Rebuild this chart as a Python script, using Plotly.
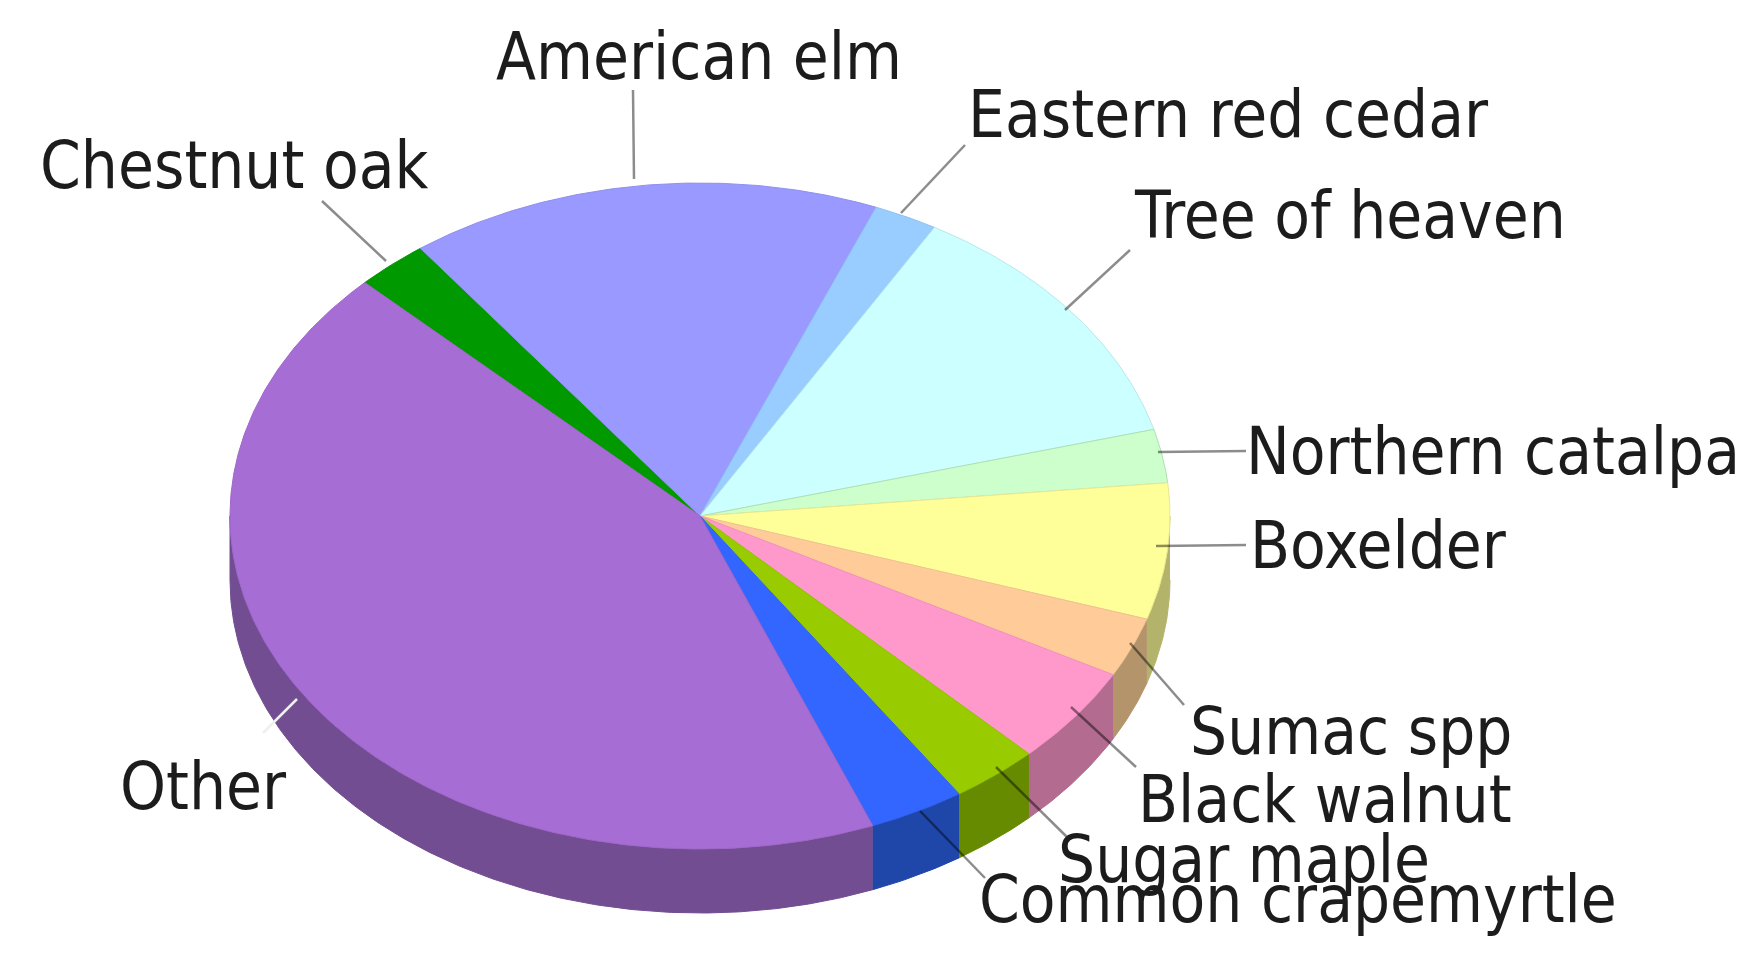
import numpy as np
import plotly.graph_objects as go

# ---- data (clockwise from the chestnut oak slice) ----
species = ["Chestnut oak", "American elm", "Eastern red cedar", "Tree of heaven",
           "Northern catalpa", "Boxelder", "Sumac spp", "Black walnut",
           "Sugar maple", "Common crapemyrtle", "Other"]
shares = [2.5, 16.25, 2.2, 12.5, 2.6, 6.6, 2.9, 4.75, 3.05, 3.3, 43.35]

# ---- styles ----
top_colors = ["#009900", "#9999FF", "#99CCFF", "#CCFFFF", "#CCFFCC", "#FFFF99",
              "#FFCC99", "#FF99CC", "#99CC00", "#3366FF", "#A66DD4"]
side_colors = ["#006B00", "#6B6BB3", "#6B8FB3", "#8FB3B3", "#8FB38F", "#B3B36B",
               "#B3946B", "#B36B8F", "#668A00", "#1F47AA", "#724D91"]
edge_colors = ["#009900", "#9090EE", "#90C0EE", "#B8E8E8", "#B0E0B0", "#E8E890",
               "#F0C090", "#F090C0", "#90C000", "#3060F0", "#A066CC"]
label_x = [38, 494, 966, 1132, 1244, 1248, 1188, 1136, 1056, 977, 118]
label_y = [165, 56, 114, 215, 451, 545, 731, 799, 859, 899, 786]
leader_x = [[322, 386], [633, 634], [965, 901], [1130, 1065], [1246, 1158], [1246, 1156],
            [1184, 1130], [1136, 1071], [1069, 996], [985, 920], [263, 297]]
leader_y = [[201, 261], [90, 179], [145, 213], [250, 310], [451, 452], [545, 546],
            [705, 643], [767, 707], [839, 767], [878, 811], [733, 699]]
leader_colors = ["rgba(0,0,0,0.45)"] * 10 + ["#F0F0F0"]

CX, CY, RX, RY, DEPTH = 700, 516, 470, 333, 64
START = 135.5
FONT = "DejaVu Sans Condensed, Liberation Sans, sans-serif"
FONT_SIZE = 65
PAGE_MARGIN = 8  # the page's body margin: the axes start there

ends = START - np.cumsum(shares) * 3.6
starts = np.concatenate([[START], ends[:-1]])


def arc(a0, a1):
    t = np.radians(np.linspace(a0, a1, max(int(abs(a1 - a0) * 2), 2) + 1))
    return CX + RX * np.cos(t), CY - RY * np.sin(t)


fig = go.Figure()


def poly(x, y, fill, edge):
    fig.add_trace(go.Scatter(x=x, y=y, mode="lines", fill="toself", fillcolor=fill,
                             line=dict(color=edge, width=1), hoverinfo="skip", showlegend=False))


# side walls: the part of each slice's rim on the lower half of the ellipse
for a0, a1, c in zip(starts, ends, side_colors):
    for shift in (0, -360):
        hi, lo = min(a0 + shift, 0), max(a1 + shift, -180)
        if hi > lo:
            x, y = arc(hi, lo)
            poly(np.r_[x, x[::-1]], np.r_[y, y[::-1] + DEPTH], c, c)

# top faces
for a0, a1, c, e in zip(starts, ends, top_colors, edge_colors):
    x, y = arc(a0, a1)
    poly(np.r_[CX, x, CX], np.r_[CY, y, CY], c, e)

# leader lines
for lx, ly, c in zip(leader_x, leader_y, leader_colors):
    fig.add_trace(go.Scatter(x=lx, y=ly, mode="lines", line=dict(color=c, width=2.5),
                             hoverinfo="skip", showlegend=False))

# labels
for name, x, y in zip(species, label_x, label_y):
    fig.add_annotation(x=x, y=y, text=name, showarrow=False, xanchor="left", yanchor="middle",
                       font=dict(family=FONT, size=FONT_SIZE, color="#1C1C1C"))

fig.update_layout(width=1755 - PAGE_MARGIN, height=967 - PAGE_MARGIN,
                  margin=dict(l=0, r=0, t=0, b=0),
                  paper_bgcolor="white", plot_bgcolor="white",
                  xaxis=dict(range=[PAGE_MARGIN, 1755], visible=False),
                  yaxis=dict(range=[967, PAGE_MARGIN], visible=False))
fig.write_html("out.html", config=dict(displayModeBar=False))
